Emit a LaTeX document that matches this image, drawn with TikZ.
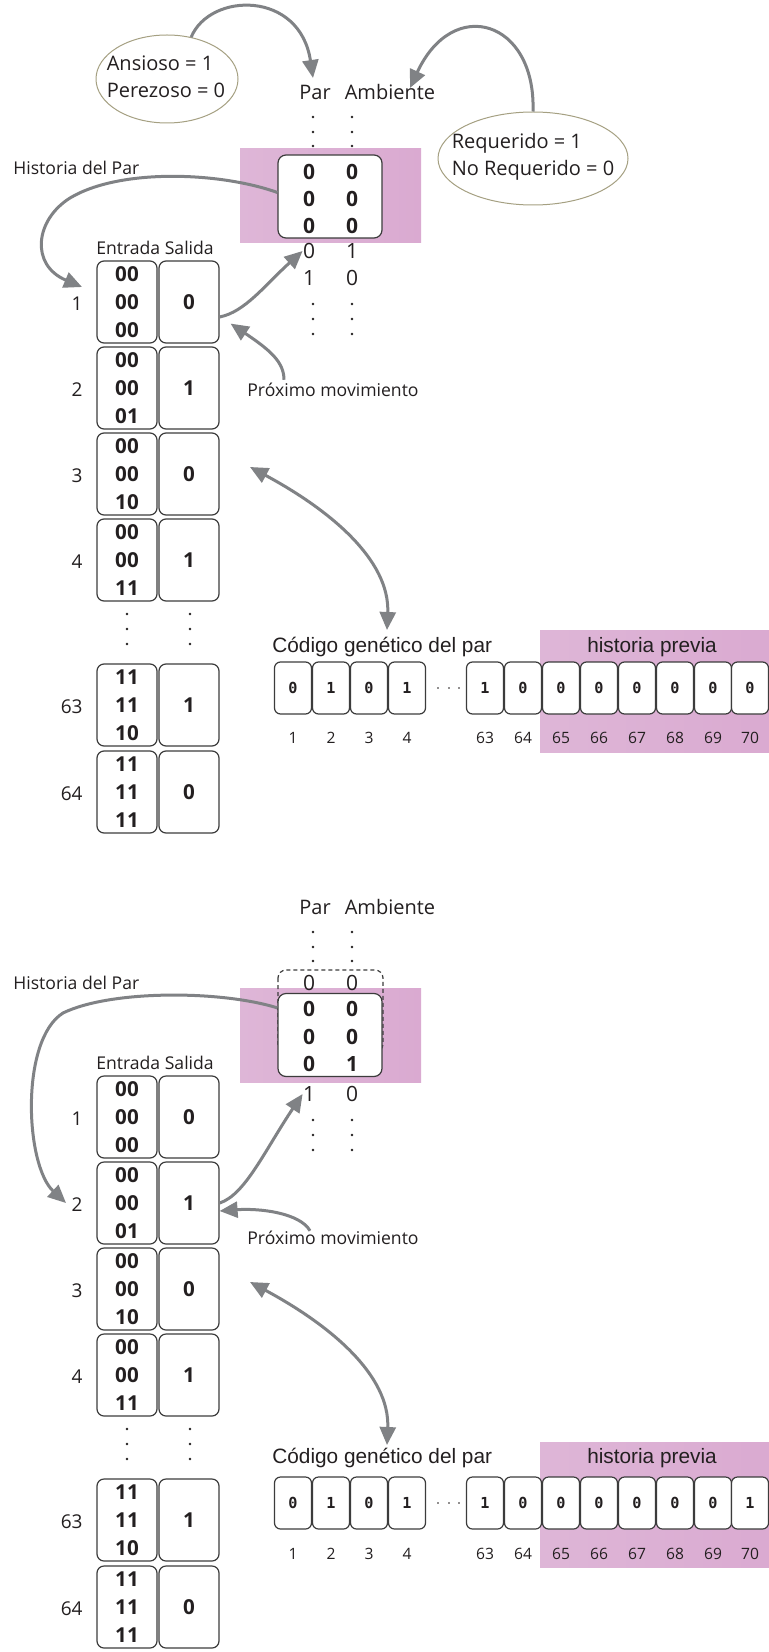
\documentclass[tikz,border=0pt]{standalone}
\usepackage{fontspec}
\setmainfont{Open Sans}
\newfontfamily\ari{Liberation Sans}
\newfontfamily\mon{DejaVu Sans Mono}
\usetikzlibrary{arrows.meta,shapes.geometric,calc}
\definecolor{agray}{RGB}{128,130,133}
\definecolor{pinkA}{RGB}{222,182,215}
\definecolor{pinkB}{RGB}{231,204,227}
\definecolor{pinkC}{RGB}{218,170,209}
\definecolor{ellc}{RGB}{165,160,130}
\definecolor{boxc}{RGB}{60,60,60}
\definecolor{txt}{RGB}{35,31,32}
\begin{document}
\begin{tikzpicture}[x=0.5pt,y=-0.5pt,
  garrow/.style={draw=agray,line width=1.5pt,-{Triangle[length=9pt,width=8pt]}},
  gdarrow/.style={draw=agray,line width=1.5pt,{Triangle[length=9pt,width=8pt]}-{Triangle[length=9pt,width=8pt]}},
  lab/.style={inner sep=0pt,text=txt,font=\fontsize{10}{12}\selectfont},
  hlab/.style={inner sep=0pt,text=txt,font=\fontsize{8.8}{10}\selectfont},
  rlab/.style={inner sep=0pt,text=txt,anchor=east,font=\fontsize{9.5}{11}\selectfont},
  ellshape/.style={ellipse,draw=ellc,line width=0.5pt,inner sep=0pt},
  elltext/.style={align=left,inner sep=0pt,text=txt,font=\fontsize{10}{13.5}\selectfont},
  ebox/.style={draw=boxc,fill=white,rounded corners=3.5pt,line width=0.6pt,minimum width=30pt,minimum height=41pt,inner sep=0pt,align=center,text=txt,font=\bfseries\fontsize{10.3}{14}\selectfont},
  winbox/.style={draw=boxc,fill=white,rounded corners=4pt,line width=0.6pt,minimum width=52pt,minimum height=41.5pt,inner sep=0pt},
  bdig/.style={inner sep=0pt,text=txt,font=\bfseries\fontsize{10.5}{12}\selectfont},
  ndig/.style={inner sep=0pt,text=txt,font=\fontsize{10.5}{12}\selectfont},
  gbox/.style={draw=boxc,fill=white,rounded corners=3pt,line width=0.6pt,minimum width=18.5pt,minimum height=26pt,inner sep=0pt,text=txt,font=\mon\bfseries\fontsize{7.6}{8}\selectfont},
  gnum/.style={inner sep=0pt,text=txt,font=\fontsize{7.8}{9}\selectfont},
  ari/.style={inner sep=0pt,text=txt,font=\ari\fontsize{10.4}{12}\selectfont},
  pinkshade/.style={left color=pinkA,middle color=pinkB,right color=pinkC}
]
\useasboundingbox (0,0) rectangle (769,1652);
\fill[white] (0,0) rectangle (769,1652);

% ================= PANEL 1 =================
\node[ellshape,minimum width=71pt,minimum height=44pt] (ea) at (167,79) {};
\node[elltext] (eat) at (166,77) {Ansioso = 1\\Perezoso = 0};
\node[ellshape,minimum width=95pt,minimum height=46.5pt] (er) at (533,158.5) {};
\node[elltext] (ert) at (533,157) {Requerido = 1\\No Requerido = 0};
\node[lab] (par) at (315,92) {Par};
\node[lab] (amb) at (390,92) {Ambiente};
\coordinate (parT) at (313,78);
\coordinate (ambT) at (410,88);
\foreach \yy in {117,132,146}{\fill[txt] (313,\yy) circle (1.3); \fill[txt] (352,\yy) circle (1.3);}
\fill[pinkshade] (240,149) rectangle (421,243);
\node[winbox] (win) at (330,196.5) {};
\foreach \yy/\a/\b [count=\i] in {172/0/0,199/0/0,226/0/0}{
  \node[bdig] (wa\i) at (309,\yy) {\a};
  \node[bdig] (wb\i) at (352,\yy) {\b};}
\node[ndig] (na1) at (309,251) {0};
\node[ndig] (nb1) at (352,251) {1};
\node[ndig] (na2) at (309,278) {1};
\node[ndig] (nb2) at (352,278) {0};
\foreach \yy in {304,319,334}{\fill[txt] (313,\yy) circle (1.3); \fill[txt] (352,\yy) circle (1.3);}

\node[hlab,anchor=west] (hist) at (13,168) {Historia del Par};
\node[hlab] (es) at (155,248) {Entrada Salida};
\foreach \yt/\lab/\a/\b/\c/\s [count=\i] in {261/1/00/00/00/0,347/2/00/00/01/1,433/3/00/00/10/0,519/4/00/00/11/1,664/63/11/11/10/1,751/64/11/11/11/0}{
  \node[ebox] (e\i) at (127,\yt+41) {\a\\\b\\\c};
  \node[ebox] (s\i) at (189,\yt+41) {\s};
  \node[rlab] (r\i) at (83,\yt+43) {\lab};}
\foreach \yy in {614,629,644}{\fill[txt] (127,\yy) circle (1.3); \fill[txt] (190,\yy) circle (1.3);}
\coordinate (hT) at (82,287);
\node[hlab,anchor=west] (prox) at (247,390) {Próximo movimiento};

% arrows panel 1
\draw[garrow] (ea.60) .. controls (210,-8) and (300,-10) .. (parT);
\draw[garrow] (er.north) .. controls (536,20) and (453,-5) .. (ambT);
\draw[garrow] ($(win.west)+(0,-4)$) .. controls (220,172) and (120,168) .. (70,198) .. controls (35,220) and (30,265) .. (hT);
\draw[garrow] ($(s1.east)+(0,15)$) .. controls (245,312) and (265,285) .. (na1.west);
\draw[garrow] ($(prox.north west)+(37,-3)$) .. controls (284,362) and (270,350) .. ($(s1.south east)+(11,-20)$);
\coordinate (dA) at (250,467);
\node[ari,anchor=west] (cod) at (272,647) {Código genético del par};
\coordinate (dB) at (387,630);
\draw[gdarrow] (dA) .. controls (330,510) and (390,560) .. (dB);

% gene code panel 1
\fill[pinkshade] (540,630) rectangle (769,752);
\node[ari] (hp) at (652,647) {historia previa};
\foreach \xc/\v/\n [count=\i] in {293/0/1,331/1/2,369/0/3,407/1/4,485/1/63,523/0/64,561/0/65,599/0/66,637/0/67,675/0/68,713/0/69,750/0/70}{
  \node[gbox] (g\i) at (\xc,688) {\v};
  \node[gnum] (gn\i) at (\xc,738) {\n};}
\foreach \xx in {438,449,459}{\fill[txt] (\xx,688) circle (0.9);}

% ================= PANEL 2 =================
\node[lab] (parb) at (315,907) {Par};
\node[lab] (ambb) at (390,907) {Ambiente};
\foreach \yy in {932,947,961}{\fill[txt] (313,\yy) circle (1.3); \fill[txt] (352,\yy) circle (1.3);}
\fill[pinkshade] (240,988) rectangle (421,1082);
\draw[boxc,line width=0.6pt,dash pattern=on 2pt off 1.5pt,rounded corners=4pt] (278,970) rectangle (383,1052);
\node[ndig] (nc1) at (309,983) {0};
\node[ndig] (nd1) at (352,983) {0};
\node[winbox] (winb) at (330,1035) {};
\foreach \yy/\a/\b [count=\i] in {1009/0/0,1037/0/0,1064/0/1}{
  \node[bdig] (wc\i) at (309,\yy) {\a};
  \node[bdig] (wd\i) at (352,\yy) {\b};}
\node[ndig] (nc2) at (309,1094) {1};
\node[ndig] (nd2) at (352,1094) {0};
\foreach \yy in {1120,1135,1150}{\fill[txt] (313,\yy) circle (1.3); \fill[txt] (352,\yy) circle (1.3);}

\node[hlab,anchor=west] (histb) at (13,983) {Historia del Par};
\node[hlab] (esb) at (155,1063) {Entrada Salida};
\foreach \yt/\lab/\a/\b/\c/\s [count=\i] in {1076/1/00/00/00/0,1162/2/00/00/01/1,1248/3/00/00/10/0,1334/4/00/00/11/1,1479/63/11/11/10/1,1566/64/11/11/11/0}{
  \node[ebox] (eb\i) at (127,\yt+41) {\a\\\b\\\c};
  \node[ebox] (sb\i) at (189,\yt+41) {\s};
  \node[rlab] (rb\i) at (83,\yt+43) {\lab};}
\foreach \yy in {1429,1444,1459}{\fill[txt] (127,\yy) circle (1.3); \fill[txt] (190,\yy) circle (1.3);}
\coordinate (hTb) at (66,1203);
\node[hlab,anchor=west] (proxb) at (247,1238) {Próximo movimiento};

\draw[garrow] ($(winb.north west)+(0,15)$) .. controls (220,990) and (110,990) .. (63,1013) .. controls (20,1040) and (25,1165) .. (hTb);
\draw[garrow] (sb2.east) .. controls (245,1195) and (265,1150) .. (nc2.west);
\draw[garrow] ($(proxb.north west)+(63,0)$) .. controls (300,1213) and (260,1208) .. ($(sb2.east)+(0,8)$);
\coordinate (dAb) at (250,1282);
\node[ari,anchor=west] (codb) at (272,1458) {Código genético del par};
\coordinate (dBb) at (387,1445);
\draw[gdarrow] (dAb) .. controls (330,1325) and (390,1375) .. (dBb);

\fill[pinkshade] (540,1442) rectangle (769,1567);
\node[ari] (hpb) at (652,1458) {historia previa};
\foreach \xc/\v/\n [count=\i] in {293/0/1,331/1/2,369/0/3,407/1/4,485/1/63,523/0/64,561/0/65,599/0/66,637/0/67,675/0/68,713/0/69,750/1/70}{
  \node[gbox] (gb\i) at (\xc,1503) {\v};
  \node[gnum] (gnb\i) at (\xc,1554) {\n};}
\foreach \xx in {438,449,459}{\fill[txt] (\xx,1503) circle (0.9);}
\end{tikzpicture}
\end{document}
